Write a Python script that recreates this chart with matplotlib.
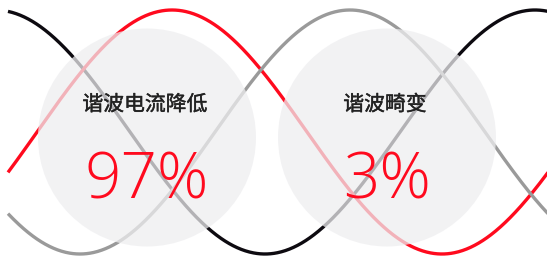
import numpy as np
import matplotlib
matplotlib.use("Agg")
import matplotlib.pyplot as plt
import matplotlib.patheffects as pe
from matplotlib.patches import Circle

plt.rcParams['font.family'] = ['Noto Sans CJK SC', 'DejaVu Sans']

# three-phase waves (pixel units)
wave_colors = ['#0d0a10', '#ff0a1e', '#9a9a9a']
wave_peaks = [-5, 172, 350]      # x where each wave is at its top
wave_period = 540
wave_mid = 132
wave_amp = 122

# the two badges
labels = ['谐波电流降低', '谐波畸变']
values = ['97%', '3%']
centers_x = [147, 387]

fig = plt.figure(figsize=(5.47, 2.61), dpi=100)
ax = fig.add_axes([0, 0, 1, 1])
ax.set_xlim(0, 547)
ax.set_ylim(261, 0)
ax.axis('off')

x = np.linspace(8, 550, 800)
for c, p in zip(wave_colors, wave_peaks):
    y = wave_mid - wave_amp * np.cos(2 * np.pi * (x - p) / wave_period)
    ax.plot(x, y, color=c, lw=2.4, solid_capstyle='butt', zorder=1)

for cx, lab, val in zip(centers_x, labels, values):
    ax.add_patch(Circle((cx, 137.5), 109, facecolor='#eeeef0', edgecolor='none',
                        alpha=0.74, zorder=2))
    t = ax.text(cx - 2, 104.5, lab, ha='center', va='center', fontsize=15,
                color='#222222', zorder=3)
    # a bit heavier than regular, like the medium weight in the original
    t.set_path_effects([pe.withStroke(linewidth=0.3, foreground='#222222')])
    ax.text(cx, 182, val, ha='center', va='center', fontsize=46,
            family=['Open Sans', 'DejaVu Sans'], fontweight='light', color='#ff0a1e', zorder=3)

fig.savefig('out.png', dpi=100)
